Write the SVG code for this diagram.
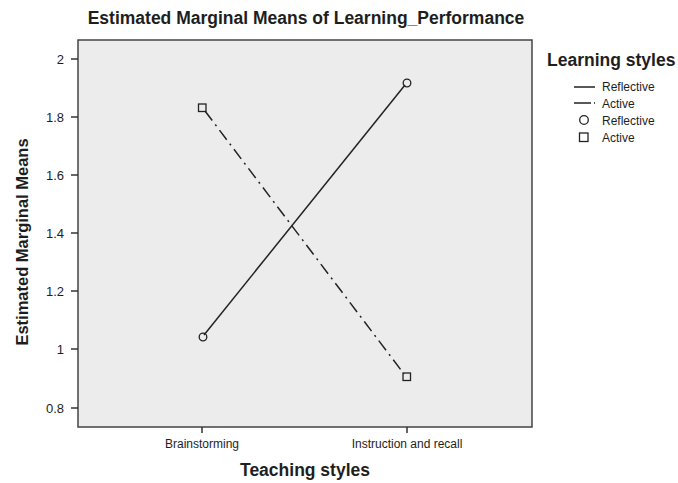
<svg xmlns="http://www.w3.org/2000/svg" width="678" height="483" viewBox="0 0 678 483">
<style>
text{font-family:"Liberation Sans",Arial,sans-serif;fill:#1e1e1e}
.tick{stroke:#333;stroke-width:1.5}
.ylab{font-size:13px;text-anchor:end}
.xlab{font-size:12px;text-anchor:middle}
.title{font-size:17.5px;font-weight:bold;text-anchor:middle}
.leg{font-size:12px}
.refl{stroke:#222;stroke-width:1.5;fill:none}
.act{stroke:#222;stroke-width:1.5;fill:none;stroke-dasharray:12 5 2 5}
.mk{stroke:#222;stroke-width:1.3;fill:none}
</style>
<rect width="678" height="483" fill="#fff"/>
<text class="title" x="306" y="24">Estimated Marginal Means of Learning_Performance</text>
<g id="plot">
<rect x="78" y="40" width="454" height="387" fill="#ececec" stroke="#444" stroke-width="1.5"/>
</g>
<g id="yaxis">
<line class="tick" x1="71" y1="59" x2="78" y2="59"/>
<line class="tick" x1="71" y1="117" x2="78" y2="117"/>
<line class="tick" x1="71" y1="175" x2="78" y2="175"/>
<line class="tick" x1="71" y1="233" x2="78" y2="233"/>
<line class="tick" x1="71" y1="291" x2="78" y2="291"/>
<line class="tick" x1="71" y1="349" x2="78" y2="349"/>
<line class="tick" x1="71" y1="408" x2="78" y2="408"/>
<text class="ylab" x="64" y="64">2</text>
<text class="ylab" x="64" y="122">1.8</text>
<text class="ylab" x="64" y="180">1.6</text>
<text class="ylab" x="64" y="238">1.4</text>
<text class="ylab" x="64" y="296">1.2</text>
<text class="ylab" x="64" y="354">1</text>
<text class="ylab" x="64" y="413">0.8</text>
<text class="title" style="font-size:16.5px" transform="translate(28,242) rotate(-90)">Estimated Marginal Means</text>
</g>
<g id="xaxis">
<line class="tick" x1="202" y1="427" x2="202" y2="433"/>
<line class="tick" x1="407" y1="427" x2="407" y2="433"/>
<text class="xlab" x="202" y="448">Brainstorming</text>
<text class="xlab" x="407" y="448">Instruction and recall</text>
<text class="title" x="305" y="476">Teaching styles</text>
</g>
<g id="connectors">
<line class="refl" x1="204" y1="335" x2="405" y2="85"/>
<line class="act" x1="205" y1="111" x2="404" y2="374"/>
</g>
<g id="markers">
<circle class="mk" cx="203" cy="337" r="3.8"/>
<circle class="mk" cx="407" cy="83" r="3.8"/>
<rect class="mk" x="198.5" y="104" width="7.5" height="7.5"/>
<rect class="mk" x="403" y="373" width="7.5" height="7.5"/>
</g>
<g id="legend">
<text x="547" y="66" style="font-size:17.5px;font-weight:bold">Learning styles</text>
<line class="refl" x1="574" y1="87" x2="595" y2="87"/>
<text class="leg" x="602" y="91">Reflective</text>
<line class="refl" x1="574" y1="103" x2="591" y2="103"/>
<line class="refl" x1="594" y1="103" x2="595" y2="103"/>
<text class="leg" x="602" y="108">Active</text>
<circle class="mk" cx="584" cy="120" r="4.3"/>
<text class="leg" x="602" y="125">Reflective</text>
<rect class="mk" x="579.5" y="133" width="8.5" height="8.5"/>
<text class="leg" x="602" y="142">Active</text>
</g>
</svg>
